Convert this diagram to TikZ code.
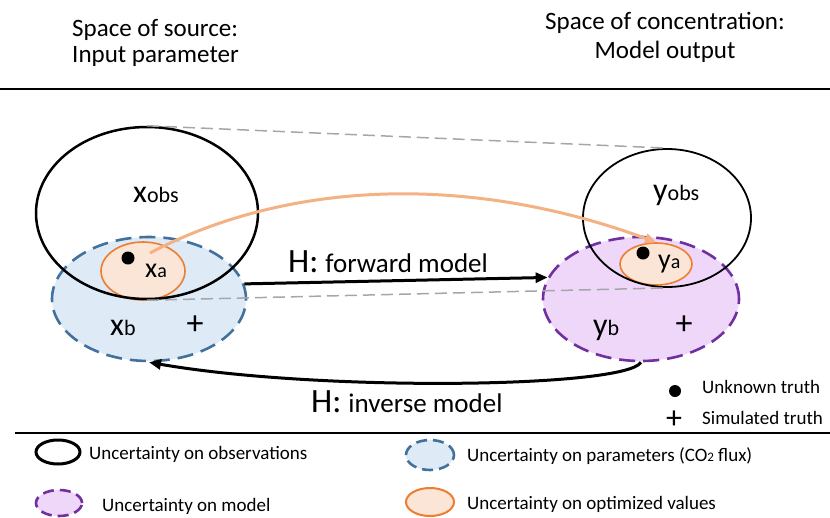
\documentclass[tikz,border=0pt]{standalone}
\usepackage{fontspec}
\setmainfont{Carlito}
\usetikzlibrary{shapes.geometric, arrows.meta, positioning}
\definecolor{paramfill}{RGB}{222,235,247}
\definecolor{paramline}{RGB}{65,113,156}
\definecolor{modelfill}{RGB}{239,215,250}
\definecolor{modelline}{RGB}{112,48,160}
\definecolor{optfill}{RGB}{251,229,214}
\definecolor{optline}{RGB}{237,125,49}
\definecolor{optcurve}{RGB}{244,177,131}
\definecolor{guidegray}{RGB}{166,166,166}
\newcommand{\bigvar}[2]{{\fontsize{32}{32}\selectfont #1}{\fontsize{22}{22}\selectfont #2}}
\newcommand{\midvar}[2]{{\fontsize{28}{28}\selectfont #1}{\fontsize{20}{20}\selectfont #2}}
\tikzset{obsell/.style={ellipse, draw=black, line width=2.5pt, inner sep=0pt},
  paramell/.style={ellipse, draw=paramline, fill=paramfill, line width=2.6pt, dash pattern=on 16pt off 8pt, inner sep=0pt},
  modelell/.style={ellipse, draw=modelline, fill=modelfill, line width=2.6pt, dash pattern=on 16pt off 8pt, inner sep=0pt},
  optell/.style={ellipse, draw=optline, fill=optfill, line width=1.6pt, inner sep=0pt},
  truthdot/.style={circle, fill=black, inner sep=0pt, minimum size=13pt},
  plusmark/.style={inner sep=0pt, font=\fontsize{34}{34}\selectfont},
  lbl/.style={anchor=base west, inner sep=0pt},
  title/.style={inner sep=0pt, font=\fontsize{25}{30}\selectfont},
  keyfont/.style={font=\fontsize{19}{22}\selectfont},
  guide/.style={draw=guidegray, line width=1.5pt, dash pattern=on 12pt off 6pt},
  flow/.style={line width=3pt, -{Triangle[length=12pt, width=10pt]}},
  rule/.style={line width=2pt}}
\begin{document}
\begin{tikzpicture}[x=1pt, y=-1pt]
\useasboundingbox (0,0) rectangle (830,517);

% headings
\node[title, anchor=base west] (srchead) at (72,36) {Space of source:};
\node[title, anchor=base west] (srcsub) at (72,62) {Input parameter};
\node[title, anchor=base] (conchead) at (665,29) {Space of concentration:};
\node[title, anchor=base] (concsub) at (665,58) {Model output};
\draw[rule] (0,89) -- (830,89);

% source side
\node[paramell, minimum width=194, minimum height=124] (xb) at (149,299) {};
\node[optell, minimum width=84, minimum height=58] (xa) at (143,271) {};
\node[obsell, minimum width=222, minimum height=172] (xobs) at (147,213) {};
\node[lbl] (xobslbl) at (133,202) {\bigvar{x}{obs}};
\node[truthdot] (xadot) at (128,258) {};
\node[lbl] (xalbl) at (145,277) {\midvar{x}{a}};
\node[lbl] (xblbl) at (110,335) {\bigvar{x}{b}};
\node[plusmark] (xbplus) at (195,325) {+};

% concentration side
\node[modelell, minimum width=196, minimum height=124] (yb) at (641,299) {};
\node[optell, minimum width=72, minimum height=42] (ya) at (656,264) {};
\node[obsell, line width=1.8pt, minimum width=168, minimum height=138] (yobs) at (667,218) {};
\node[lbl] (yobslbl) at (653,200) {\bigvar{y}{obs}};
\node[truthdot] (yadot) at (643,253) {};
\node[lbl] (yalbl) at (658,268) {\midvar{y}{a}};
\node[lbl] (yblbl) at (593,335) {\bigvar{y}{b}};
\node[plusmark] (ybplus) at (684,325) {+};

% guides and mappings
\draw[guide] (xobs.north) -- (yobs.north);
\draw[guide] (xobs.south) -- (yobs.south);
\coordinate (xastart) at (150,253);
\draw[optcurve, line width=3pt, -{Triangle[length=11pt, width=10pt]}] (xastart) .. controls (285,182) and (465,172) .. (ya.north);
\draw[flow] (xb.9) -- (yb.167);
\node[lbl] (fwdlbl) at (288,272) {{\fontsize{34}{34}\selectfont H:}\hspace{7pt}{\fontsize{27}{27}\selectfont forward model}};
\draw[flow] (yb.south) .. controls (625,388) and (320,392) .. (xb.south);
\node[lbl] (invlbl) at (311,412) {{\fontsize{34}{34}\selectfont H:}\hspace{7pt}{\fontsize{27}{27}\selectfont inverse model}};

% markers key
\node[truthdot, minimum size=12pt] (keydot) at (675,391) {};
\node[lbl, keyfont] (keydottxt) at (702,393) {Unknown truth};
\node[plusmark, font=\fontsize{32}{32}\selectfont] (keyplus) at (674,420) {+};
\node[lbl, keyfont] (keyplustxt) at (702,424) {Simulated truth};
\draw[rule] (15,433) -- (830,433);

% ellipse key
\node[obsell, line width=3pt, minimum width=44, minimum height=24] (keyobs) at (58,452) {};
\node[lbl, keyfont] (keyobstxt) at (89,459) {Uncertainty on observations};
\node[paramell, dash pattern=on 11pt off 6pt, minimum width=48, minimum height=30] (keyparam) at (430,455) {};
\node[lbl, keyfont] (keyparamtxt) at (467,461) {Uncertainty on parameters (CO{\fontsize{13}{13}\selectfont 2} flux)};
\node[modelell, dash pattern=on 11pt off 6pt, minimum width=46, minimum height=26] (keymodel) at (59,503) {};
\node[lbl, keyfont] (keymodeltxt) at (102,511) {Uncertainty on model};
\node[optell, line width=2pt, minimum width=48, minimum height=28] (keyopt) at (430,502) {};
\node[lbl, keyfont] (keyopttxt) at (467,509) {Uncertainty on optimized values};
\end{tikzpicture}
\end{document}
